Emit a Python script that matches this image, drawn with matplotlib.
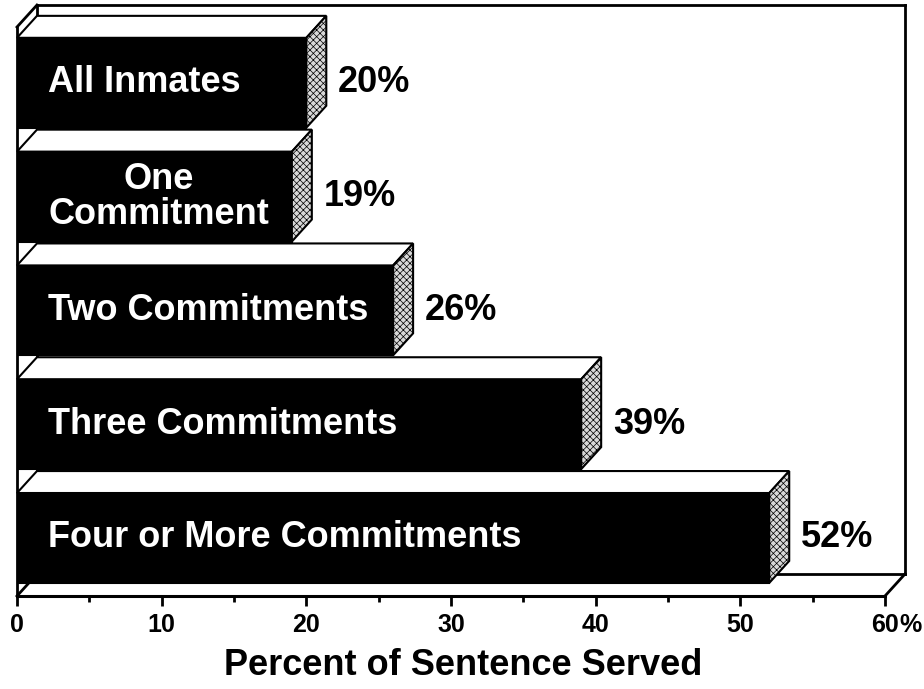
import matplotlib.pyplot as plt
from matplotlib.patches import Polygon
import numpy as np

# share of sentence served, by number of prior commitments
categories = ["All Inmates", "One\nCommitment", "Two Commitments",
              "Three Commitments", "Four or More Commitments"]
pct = [20, 19, 26, 39, 52]
ticks = [0, 10, 20, 30, 40, 50, 60]

plt.rcParams['font.family'] = ['Liberation Sans', 'DejaVu Sans']
plt.rcParams['font.weight'] = 'bold'
plt.rcParams['hatch.linewidth'] = 0.5

fig = plt.figure(figsize=(9.24, 6.89), dpi=100)
ax = fig.add_axes([17/924, (689-596)/689, 868/924, (596-27)/689])

ypos = np.arange(len(categories))[::-1]
h = 0.79          # bar thickness (front face)
dx, dy = 1.38, 0.193   # depth of the fake 3d
x0, x1 = 0, 60
y0, y1 = -0.51, 4.49

ax.set_xlim(x0, x1)
ax.set_ylim(y0, y1)

# back of the box
kw = dict(color="black", lw=2, clip_on=False, zorder=1)
ax.plot([x0 + dx, x1 + dx], [y1 + dy, y1 + dy], **kw)
ax.plot([x1 + dx, x1 + dx], [y1 + dy, y0 + dy], **kw)
ax.plot([x0 + dx, x1 + dx], [y0 + dy, y0 + dy], **kw)
ax.plot([x0 + dx, x0 + dx], [y0 + dy, y1 + dy], **kw)
ax.plot([x0, x0 + dx], [y1, y1 + dy], **kw)
ax.plot([x1, x1 + dx], [y0, y0 + dy], **kw)
ax.plot([x0, x0 + dx], [y0, y0 + dy], **kw)

# front faces
ax.barh(ypos, pct, height=h, left=0, color="black", edgecolor="black",
        lw=1.5, zorder=3)

for y, v, name in zip(ypos, pct, categories):
    top = y + h / 2
    bot = y - h / 2
    ax.add_patch(Polygon([(0, top), (v, top), (v + dx, top + dy), (dx, top + dy)],
                         closed=True, facecolor="white", edgecolor="black",
                         lw=1.5, zorder=3, clip_on=False))
    ax.add_patch(Polygon([(v, bot), (v + dx, bot + dy), (v + dx, top + dy), (v, top)],
                         closed=True, facecolor="#d8d8d8", edgecolor="black",
                         hatch="xxxxx", lw=1.5, zorder=3, clip_on=False))
    ax.text(2.15, y, name, color="white", fontsize=26, fontweight="bold",
            ha="left", va="center", multialignment="center",
            linespacing=1.0, zorder=4)
    ax.text(v + dx + 0.8, y, f"{v}%", color="black", fontsize=26,
            fontweight="bold", ha="left", va="center", zorder=4)

for s in ["top", "right"]:
    ax.spines[s].set_visible(False)
ax.spines["left"].set_linewidth(2)
ax.spines["bottom"].set_linewidth(2.2)
ax.spines["left"].set_zorder(5)

ax.set_yticks([])
ax.set_xticks(ticks)
ax.set_xticklabels([str(t) for t in ticks])
ax.set_xticks(np.arange(5, 60, 10), minor=True)
ax.tick_params(axis="x", which="major", length=7, width=2, labelsize=18, pad=5)
ax.tick_params(axis="x", which="minor", length=4, width=2)
for lab in ax.get_xticklabels():
    lab.set_fontweight("bold")

# percent sign hangs after the last tick label
ax.annotate("%", xy=(60, 0), xycoords=("data", "axes fraction"),
            xytext=(10, -12), textcoords="offset points",
            fontsize=18, fontweight="bold", ha="left", va="top",
            annotation_clip=False)

ax.set_xlabel("Percent of Sentence Served", fontsize=26, fontweight="bold",
              labelpad=8, x=0.514)

plt.savefig("out.png", dpi=100)
